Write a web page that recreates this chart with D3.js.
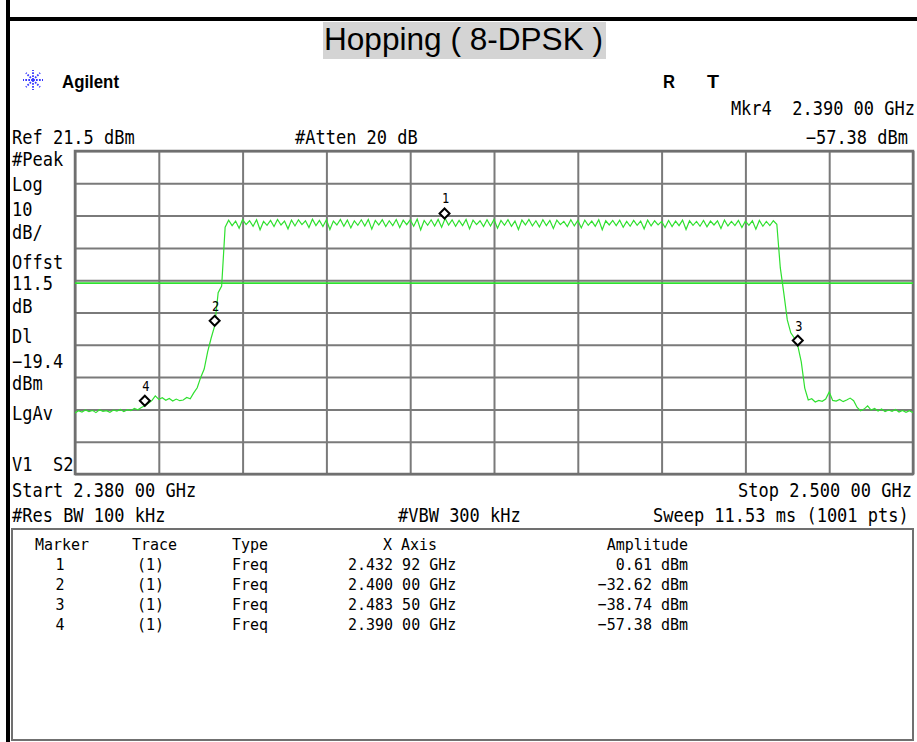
<!DOCTYPE html>
<html>
<head>
<meta charset="utf-8">
<script src="https://cdn.jsdelivr.net/npm/d3@7"></script>
<style>
  html, body { margin: 0; padding: 0; background: #fff; }
  svg { display: block; }
  svg text { white-space: pre; }
</style>
</head>
<body>
<svg id="chart" width="917" height="742"></svg>
<script>
// ---- sweep settings ----
const sweepStartGHz = 2.380;
const sweepStopGHz = 2.500;
const sweepStepGHz = 0.0005;
const refLevelDbm = 21.5;
const dbPerDiv = 10;
const divisions = 10;
const displayLineDbm = -19.4;

// ---- trace amplitude (dBm), one reading every 0.5 MHz from start to stop ----
const traceDbm = [
  // lower noise floor 2.380 - 2.390 GHz
  -59.6, -58.9, -59.3, -58.7, -59.2, -58.8, -59.5, -58.6, -59.1, -58.9,
  -59.4, -58.7, -59.0, -58.5, -59.2, -58.6, -58.9, -58.2, -58.6, -57.9,
  -57.38,
  // shoulder and lower band edge
  -56.6, -55.8, -54.3, -55.4, -54.9, -55.7, -55.1, -55.9, -55.3, -55.8,
  -55.6, -54.8, -55.2, -53.4, -51.8, -48.6, -46.0, -40.6, -36.4, -32.62,
  -22.4, -20.3, -2.1,
  // hopping channels 2.402 - 2.480 GHz (channel peak, gap between channels)
  0.1, -1.6, -0.2, -2.4, 0.3, -1.3, -0.1, -1.8, 0.2, -2.9,
  -0.3, -1.5, 0.0, -1.9, 0.3, -1.4, -0.2, -2.6, 0.1, -1.7,
  0.2, -1.3, -0.1, -2.2, 0.4, -1.6, 0.0, -1.9, 0.2, -2.8,
  -0.2, -1.4, 0.3, -1.8, 0.1, -2.3, -0.1, -1.5, 0.2, -1.7,
  0.3, -2.7, 0.0, -1.4, 0.2, -1.9, -0.1, -1.6, 0.3, -2.2,
  0.1, -1.3, 0.2, -1.8, 0.4, -2.9, 0.0, -1.5, 0.2, -1.7,
  0.3, -2.1, 0.61, -1.4, 0.2, -1.8, 0.0, -1.6, 0.3, -2.6,
  0.1, -1.3, -0.1, -1.9, 0.2, -1.7, 0.3, -2.4, 0.0, -1.5,
  0.2, -1.8, -0.2, -2.8, 0.1, -1.4, 0.3, -1.7, -0.1, -2.0,
  0.2, -1.6, 0.0, -2.5, 0.1, -1.3, -0.3, -1.9, 0.2, -1.7,
  0.0, -2.3, 0.1, -1.5, -0.2, -1.8, 0.2, -2.9, -0.1, -1.4,
  0.0, -1.6, 0.1, -2.1, -0.3, -1.8, 0.0, -1.5, -0.2, -2.6,
  0.1, -1.7, -0.1, -1.4, -0.3, -2.2, 0.0, -1.9, -0.2, -1.6,
  0.1, -2.8, -0.1, -1.5, -0.3, -1.8, 0.0, -2.0, -0.2, -1.4,
  -0.1, -2.5, 0.1, -1.7, -0.3, -1.6, 0.0, -2.2, -0.2, -1.5,
  -0.1, -2.7, 0.0, -1.8, -0.3, -1.6, -0.1,
  // upper band edge
  -1.2, -14.7, -22.5, -30.8, -34.8, -36.4, -38.74, -43.8, -51.9, -55.6,
  // upper shelf and noise floor 2.4855 - 2.500 GHz
  -55.2, -56.2, -55.7, -56.0, -55.3, -53.1, -55.7, -55.9, -55.4, -56.1,
  -55.6, -55.0, -55.8, -57.9, -58.9, -58.4, -57.4,
  -58.7, -58.2, -59.0, -58.4, -59.2, -58.7, -59.1, -58.5, -59.3, -58.8,
  -59.4, -58.9, -59.5
];

// ---- markers ----
const markerIds = [1, 2, 3, 4];
const markerTrace = ["(1)", "(1)", "(1)", "(1)"];
const markerType = ["Freq", "Freq", "Freq", "Freq"];
const markerFreqGHz = [2.43292, 2.40000, 2.48350, 2.39000];
const markerAmpDbm = [0.61, -32.62, -38.74, -57.38];

// ---- annotation text ----
const titleText = "Hopping ( 8-DPSK )";
const leftLabels = ["#Peak", "Log", "10", "dB/", "Offst", "11.5", "dB", "Dl", "\u221219.4", "dBm", "LgAv", "V1  S2"];
const tableHeader = ["Marker", "Trace", "Type", "X Axis", "Amplitude"];

// ---- helpers ----
const svg = d3.select("#chart");
const MINUS = "\u2212";
const fmtFreq = f => { const s = f.toFixed(5); return s.slice(0, 5) + " " + s.slice(5) + " GHz"; };
const fmtAmp = a => (a < 0 ? MINUS : "") + Math.abs(a).toFixed(2) + " dBm";

function monoText(parent, str, x, y, size, anchor) {
  return parent.append("text")
    .attr("transform", `translate(${x},${y}) scale(1,1.1)`)
    .attr("xml:space", "preserve")
    .attr("font-family", "'DejaVu Sans Mono', monospace")
    .attr("font-size", size)
    .attr("text-anchor", anchor || "start")
    .attr("fill", "#000")
    .text(str);
}

// ---- page frame ----
svg.append("rect").attr("x", 6).attr("y", 0).attr("width", 4).attr("height", 742).attr("fill", "#000");
svg.append("rect").attr("x", 6).attr("y", 17).attr("width", 911).attr("height", 4).attr("fill", "#000");

// ---- title ----
svg.append("rect").attr("x", 323).attr("y", 22).attr("width", 283).attr("height", 37).attr("fill", "#d4d4d4");
svg.append("text")
  .attr("x", 324).attr("y", 50)
  .attr("font-family", "'Liberation Sans', Arial, sans-serif")
  .attr("font-size", 31)
  .attr("textLength", 279).attr("lengthAdjust", "spacingAndGlyphs")
  .attr("fill", "#000")
  .text(titleText);

// ---- Agilent logo and status ----
const star = svg.append("g").attr("transform", "translate(33,80)")
  .attr("stroke", "#3535ff").attr("stroke-width", 1.8).attr("stroke-dasharray", "1.7,1.3");
d3.range(8).forEach(k => {
  const a = k * Math.PI / 4;
  star.append("line").attr("x1", 0).attr("y1", 0)
    .attr("x2", 10 * Math.cos(a)).attr("y2", 10 * Math.sin(a));
});
svg.append("text")
  .attr("x", 62).attr("y", 88)
  .attr("font-family", "'Liberation Sans', Arial, sans-serif")
  .attr("font-weight", "bold").attr("font-size", 19)
  .attr("textLength", 57).attr("lengthAdjust", "spacingAndGlyphs")
  .text("Agilent");
["R", "T"].forEach((s, i) => {
  svg.append("text")
    .attr("x", [663, 707][i]).attr("y", 88)
    .attr("font-family", "'Liberation Sans', Arial, sans-serif")
    .attr("font-weight", "bold").attr("font-size", 19)
    .attr("textLength", 12).attr("lengthAdjust", "spacingAndGlyphs")
    .text(s);
});

// ---- header annotations ----
monoText(svg, "Mkr" + markerIds[3] + "  " + fmtFreq(markerFreqGHz[3]), 915, 115, 17, "end");
monoText(svg, fmtAmp(markerAmpDbm[3]), 908, 144, 17, "end");
monoText(svg, "Ref " + refLevelDbm.toFixed(1) + " dBm", 12, 144, 17);
monoText(svg, "#Atten 20 dB", 295, 144, 17);

// ---- left-hand settings column ----
const leftBaselines = [166, 191, 216, 239, 269, 290, 313, 343, 368, 390, 420, 471];
leftLabels.forEach((s, i) => monoText(svg, s, 12, leftBaselines[i], 17));

// ---- plot area ----
const plot = { left: 75, right: 913, top: 151, bottom: 474 };
const x = d3.scaleLinear().domain([sweepStartGHz, sweepStopGHz]).range([plot.left, plot.right]);
const y = d3.scaleLinear().domain([refLevelDbm - dbPerDiv * divisions, refLevelDbm]).range([plot.bottom, plot.top]);

const xGrid = d3.range(divisions + 1).map(i => sweepStartGHz + i * (sweepStopGHz - sweepStartGHz) / divisions);
const yGrid = d3.range(divisions + 1).map(i => refLevelDbm - i * dbPerDiv);

const gx = svg.append("g").attr("transform", `translate(0,${plot.bottom})`)
  .call(d3.axisBottom(x).tickValues(xGrid).tickSize(-(plot.bottom - plot.top)).tickFormat(""));
const gy = svg.append("g").attr("transform", `translate(${plot.left},0)`)
  .call(d3.axisLeft(y).tickValues(yGrid).tickSize(-(plot.right - plot.left)).tickFormat(""));
[gx, gy].forEach(g => {
  g.select(".domain").remove();
  g.selectAll(".tick line").attr("stroke", "#7a7a7a").attr("stroke-width", 2);
});
svg.append("rect")
  .attr("x", plot.left).attr("y", plot.top)
  .attr("width", plot.right - plot.left).attr("height", plot.bottom - plot.top)
  .attr("fill", "none").attr("stroke", "#6f6f6f").attr("stroke-width", 2.5);

svg.append("clipPath").attr("id", "plotClip").append("rect")
  .attr("x", plot.left).attr("y", plot.top)
  .attr("width", plot.right - plot.left).attr("height", plot.bottom - plot.top);

// display line
svg.append("line")
  .attr("x1", plot.left).attr("x2", plot.right)
  .attr("y1", y(displayLineDbm)).attr("y2", y(displayLineDbm))
  .attr("stroke", "#2fe02f").attr("stroke-width", 1.6);

// trace
const traceLine = d3.line()
  .x((d, i) => x(sweepStartGHz + i * sweepStepGHz))
  .y(d => y(d));
svg.append("path")
  .datum(traceDbm)
  .attr("clip-path", "url(#plotClip)")
  .attr("d", traceLine)
  .attr("fill", "none")
  .attr("stroke", "#2fe02f")
  .attr("stroke-width", 1.2);

// markers: diamond resting on the trace point, number above
const markerG = svg.append("g");
markerIds.forEach((id, i) => {
  const mx = x(markerFreqGHz[i]);
  const my = y(markerAmpDbm[i]);
  markerG.append("path")
    .attr("d", "M0,-5 L5,0 L0,5 L-5,0 Z")
    .attr("transform", `translate(${mx},${my - 5})`)
    .attr("fill", "#fff").attr("stroke", "#000").attr("stroke-width", 2);
  monoText(markerG, String(id), mx + 1, my - 15, 12, "middle");
});

// ---- footer annotations ----
monoText(svg, "Start " + fmtFreq(sweepStartGHz), 12, 497, 17);
monoText(svg, "Stop " + fmtFreq(sweepStopGHz), 738, 497, 17);
monoText(svg, "#Res BW 100 kHz", 12, 522, 17);
monoText(svg, "#VBW 300 kHz", 398, 522, 17);
monoText(svg, "Sweep 11.53 ms (1001 pts)", 653, 522, 17);

// ---- marker table ----
svg.append("rect").attr("x", 12).attr("y", 529).attr("width", 901).attr("height", 211)
  .attr("fill", "none").attr("stroke", "#707070").attr("stroke-width", 2);
const tbl = svg.append("g");
monoText(tbl, tableHeader[0], 35, 550, 15);
monoText(tbl, tableHeader[1], 132, 550, 15);
monoText(tbl, tableHeader[2], 232, 550, 15);
monoText(tbl, tableHeader[3], 383, 550, 15);
monoText(tbl, tableHeader[4], 688, 550, 15, "end");
markerIds.forEach((id, i) => {
  const by = 570 + i * 20;
  monoText(tbl, String(id), 60, by, 15, "middle");
  monoText(tbl, markerTrace[i], 137, by, 15);
  monoText(tbl, markerType[i], 232, by, 15);
  monoText(tbl, fmtFreq(markerFreqGHz[i]), 348, by, 15);
  monoText(tbl, fmtAmp(markerAmpDbm[i]), 688, by, 15, "end");
});
</script>
</body>
</html>
